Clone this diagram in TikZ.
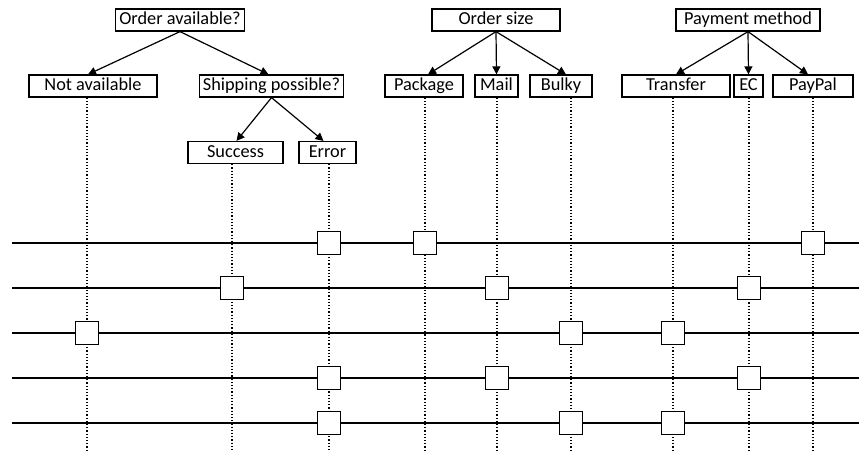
\documentclass[tikz,border=0pt]{standalone}
\usepackage{fontspec}
\setmainfont{Carlito}
\usetikzlibrary{arrows.meta}
\begin{document}
\begin{tikzpicture}[x=1pt,y=-1pt,
  box/.style={draw, line width=1.2pt, minimum height=22pt, inner sep=0pt,
    text height=13pt, text depth=4pt, font=\fontsize{18.3}{20}\selectfont},
  arr/.style={-{Triangle[length=8pt,width=8pt]}, line width=1.2pt},
  guide/.style={dotted, line width=1.2pt},
  row/.style={line width=1.3pt},
  sq/.style={draw, fill=white, line width=1.7pt, minimum size=23pt, inner sep=0pt}]
\useasboundingbox (0,0) rectangle (859,451);

% decision trees
\node[box, minimum width=129pt] (oa) at (180,20) {Order available?};
\node[box, minimum width=128pt] (na) at (93,86) {Not available};
\node[box, minimum width=144pt] (sp) at (271.5,86) {Shipping possible?};
\node[box, minimum width=95pt] (su) at (235.5,152.5) {Success};
\node[box, minimum width=57pt] (er) at (327.5,152.5) {Error};

\node[box, minimum width=128pt] (os) at (496,20) {Order size};
\node[box, minimum width=78pt] (pk) at (424,86) {Package};
\node[box, minimum width=43pt] (ml) at (496.5,86) {Mail};
\node[box, minimum width=62pt] (bk) at (561,86) {Bulky};

\node[box, minimum width=144pt] (pm) at (748,20) {Payment method};
\node[box, minimum width=108pt] (tr) at (676,86) {Transfer};
\node[box, minimum width=29pt] (ec) at (748.5,86) {EC};
\node[box, minimum width=80pt] (pp) at (813,86) {PayPal};

\draw[arr] (oa.south) -- ([xshift=-5pt]na.north);
\draw[arr] (oa.south) -- ([xshift=-3pt]sp.north);
\draw[arr] (sp.south) -- ([xshift=1pt]su.north);
\draw[arr] (sp.south) -- ([xshift=-4pt]er.north);
\draw[arr] (os.south) -- ([xshift=4pt]pk.north);
\draw[arr] (os.south) -- (ml.north);
\draw[arr] (os.south) -- ([xshift=5pt]bk.north);
\draw[arr] (pm.south) -- (tr.north);
\draw[arr] (pm.south) -- (ec.north);
\draw[arr] (pm.south) -- ([xshift=-5pt]pp.north);

% columns
\coordinate (cna) at (87,451);
\coordinate (csu) at (232,451);
\coordinate (cer) at (329,451);
\coordinate (cpk) at (425,451);
\coordinate (cml) at (497,451);
\coordinate (cbk) at (571,451);
\coordinate (ctr) at (673,451);
\coordinate (cec) at (749,451);
\coordinate (cpp) at (813,451);
\foreach \c in {na,su,er,pk,ml,bk,tr,ec,pp}
  \draw[guide] (\c.south -| c\c) -- (c\c);

% rows
\foreach \r/\y in {1/243,2/288,3/333,4/378,5/423}{
  \coordinate (r\r l) at (12,\y);
  \coordinate (r\r r) at (859,\y);
  \draw[row] (r\r l) -- (r\r r);
}

\foreach \c/\r in {er/1,pk/1,pp/1, su/2,ml/2,ec/2, na/3,bk/3,tr/3,
                   er/4,ml/4,ec/4, er/5,bk/5,tr/5}
  \node[sq] (q\c\r) at (c\c |- r\r l) {};
\end{tikzpicture}
\end{document}
